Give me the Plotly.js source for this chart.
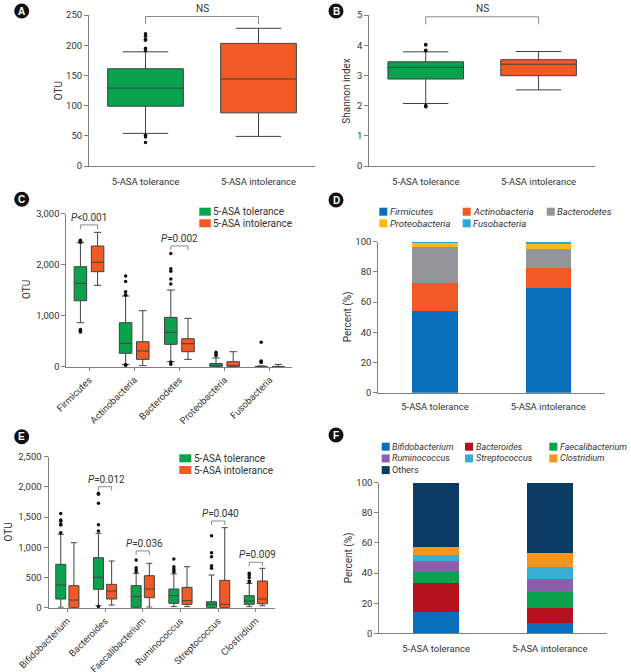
<!DOCTYPE html>
<html><head><meta charset="utf-8">
<script src="https://cdn.plot.ly/plotly-3.0.1.min.js"></script>
<style>html,body{margin:0;padding:0;background:#fff}#chart{width:631px;height:672px}</style>
</head><body><div id="chart"></div>
<script>
// ---------------- DATA ----------------
const groups = ['5-ASA tolerance', '5-ASA intolerance'];

// Panel A: OTU (box stats per group)
const otuQ1  = [99, 88];
const otuMed = [129, 144];
const otuQ3  = [161, 203];
const otuLo  = [54, 49];
const otuHi  = [189, 228];
const otuOutTol = [219, 215, 210, 208, 195, 191, 51, 48, 39];

// Panel B: Shannon index
const shQ1  = [2.88, 2.99];
const shMed = [3.27, 3.37];
const shQ3  = [3.45, 3.52];
const shLo  = [2.07, 2.52];
const shHi  = [3.78, 3.79];
const shOutTol = [4.02, 4.01, 3.83, 3.82, 2.00, 1.97, 1.96];

// Panel C: phylum OTU
const phyla = ['Firmicutes', 'Actinobacteria', 'Bacterodetes', 'Proteobacteria', 'Fusobacteria'];
const phyTolQ1  = [1294, 262, 438, 0, 0];
const phyTolMed = [1635, 458, 674, 10, 0];
const phyTolQ3  = [1961, 863, 968, 62, 6];
const phyTolLo  = [863, 46, 98, 0, 0];
const phyTolHi  = [2431, 1386, 1503, 170, 15];
const phyIntQ1  = [1863, 144, 294, 0, 0];
const phyIntMed = [2047, 308, 451, 8, 0];
const phyIntQ3  = [2366, 490, 549, 98, 4];
const phyIntLo  = [1596, 20, 144, 0, 0];
const phyIntHi  = [2635, 1098, 948, 294, 45];
const phyTolOutCat = [0,0,0,0,0,0,0,0, 1,1,1,1,1,1,1,1, 2,2,2,2,2,2,2, 3,3,3, 4,4,4,4,4];
const phyTolOutVal = [2480,2470,2460,2440,730,710,690,680, 1780,1670,1470,1410,1400,40,35,30, 2220,1920,1870,1720,1620,90,50, 282,243,215, 478,110,100,90,80];

// Panel D: phylum percent
const phylaPctTol = [54.1, 18.3, 24.3, 2.2, 1.1];
const phylaPctInt = [69.5, 13.1, 12.4, 3.7, 1.3];

// Panel E: genus OTU
const genera = ['Bifidobacterium', 'Bacteroides', 'Faecalibacterium', 'Ruminococcus', 'Streptococcus', 'Clostridium'];
const genTolQ1  = [144, 304, 0, 72, 0, 56];
const genTolMed = [376, 503, 183, 199, 56, 111];
const genTolQ3  = [718, 828, 365, 309, 99, 199];
const genTolLo  = [8, 33, 0, 17, 0, 17];
const genTolHi  = [1215, 1232, 569, 560, 541, 400];
const genIntQ1  = [0, 144, 166, 56, 0, 66];
const genIntMed = [127, 276, 309, 116, 56, 144];
const genIntQ3  = [365, 387, 530, 337, 453, 442];
const genIntLo  = [0, 44, 10, 17, 0, 33];
const genIntHi  = [1076, 773, 735, 679, 1325, 652];
const genTolOutCat = [0,0,0,0,0,0, 1,1,1,1,1,1, 2,2,2,2, 3,3,3,3,3, 4,4,4,4,4, 5,5,5,5,5];
const genTolOutVal = [1560,1450,1430,1380,1370,1240, 1894,1880,1728,1374,1270,20, 790,662,624,596, 806,680,640,610,590, 1192,911,845,695,652, 569,540,500,440,425];

// Panel F: genus percent
const generaF = ['Bifidobacterium', 'Bacteroides', 'Faecalibacterium', 'Ruminococcus', 'Streptococcus', 'Clostridium', 'Others'];
const genPctTol = [13.9, 19.7, 7.3, 7.1, 4.0, 5.1, 42.9];
const genPctInt = [7.0, 10.0, 10.6, 8.3, 8.3, 8.9, 46.9];

// Significance labels
const sigC = ['<i>P</i>&lt;0.001', '<i>P</i>=0.002'];
const sigCcat = [0, 2];
const sigCy = [2780, 2367];
const sigE = ['<i>P</i>=0.012', '<i>P</i>=0.036', '<i>P</i>=0.040', '<i>P</i>=0.009'];
const sigEcat = [1, 2, 4, 5];
const sigEy = [2003, 939, 1436, 752];

// ---------------- STYLE ----------------
const W = 631, H = 672;
const px = v => v / W, py = v => 1 - v / H;
const FONT = 'Roboto, sans-serif';
const FS = 9.5;
const GREEN = '#0aa24d', ORANGE = '#f15a24';
const LINE = '#404040', AXC = '#808080', TXT = '#333333';
const phylaColors = ['#0a6fba', '#f15a24', '#939598', '#fdb913', '#29a9d8'];
const generaColors = ['#0a6fba', '#b5121b', '#0aa24d', '#8a5fab', '#3aaed0', '#f7941d', '#0b3a63'];

const traces = [];
function boxes(xa, ya, pos, q1, med, q3, lo, hi, color, width) {
  traces.push({type: 'box', orientation: 'v', xaxis: xa, yaxis: ya, x: pos, q1: q1, median: med, q3: q3,
    lowerfence: lo, upperfence: hi, fillcolor: color, line: {color: LINE, width: 1}, whiskerwidth: 0.6,
    width: width, boxpoints: false, showlegend: false, hoverinfo: 'skip'});
}
function dots(xa, ya, xs, ys) {
  traces.push({type: 'scatter', mode: 'markers', xaxis: xa, yaxis: ya, x: xs, y: ys, cliponaxis: false,
    marker: {size: 3.5, color: '#111'}, showlegend: false, hoverinfo: 'skip'});
}

// A
boxes('x', 'y', [0], [otuQ1[0]], [otuMed[0]], [otuQ3[0]], [otuLo[0]], [otuHi[0]], GREEN, 0.67);
boxes('x', 'y', [1], [otuQ1[1]], [otuMed[1]], [otuQ3[1]], [otuLo[1]], [otuHi[1]], ORANGE, 0.67);
dots('x', 'y', otuOutTol.map(() => 0), otuOutTol);
// B
boxes('x2', 'y2', [0], [shQ1[0]], [shMed[0]], [shQ3[0]], [shLo[0]], [shHi[0]], GREEN, 0.67);
boxes('x2', 'y2', [1], [shQ1[1]], [shMed[1]], [shQ3[1]], [shLo[1]], [shHi[1]], ORANGE, 0.67);
dots('x2', 'y2', shOutTol.map(() => 0), shOutTol);
// C
const offC = 0.19, wC = 0.277;
boxes('x3', 'y3', phyla.map((_, i) => i - offC), phyTolQ1, phyTolMed, phyTolQ3, phyTolLo, phyTolHi, GREEN, wC);
boxes('x3', 'y3', phyla.map((_, i) => i + offC), phyIntQ1, phyIntMed, phyIntQ3, phyIntLo, phyIntHi, ORANGE, wC);
dots('x3', 'y3', phyTolOutCat.map(c => c - offC), phyTolOutVal);
// D
phyla.forEach((p, k) => traces.push({type: 'bar', xaxis: 'x4', yaxis: 'y4', x: groups, y: [phylaPctTol[k], phylaPctInt[k]],
  width: 0.4, marker: {color: phylaColors[k], line: {width: 0}}, showlegend: false, hoverinfo: 'skip'}));
// E
const offE = 0.175, wE = 0.265;
boxes('x5', 'y5', genera.map((_, i) => i - offE), genTolQ1, genTolMed, genTolQ3, genTolLo, genTolHi, GREEN, wE);
boxes('x5', 'y5', genera.map((_, i) => i + offE), genIntQ1, genIntMed, genIntQ3, genIntLo, genIntHi, ORANGE, wE);
dots('x5', 'y5', genTolOutCat.map(c => c - offE), genTolOutVal);
// F
generaF.forEach((g, k) => traces.push({type: 'bar', xaxis: 'x6', yaxis: 'y6', x: groups, y: [genPctTol[k], genPctInt[k]],
  width: 0.4, marker: {color: generaColors[k], line: {width: 0}}, showlegend: false, hoverinfo: 'skip'}));

// ---------------- AXES ----------------
function xAx(l, r, anchor, extra) {
  return Object.assign({domain: [px(l), px(r)], anchor: anchor, showline: true, linecolor: AXC, linewidth: 1,
    showgrid: false, zeroline: false, ticks: '', tickfont: {size: FS, color: TXT, family: FONT}, fixedrange: true}, extra);
}
function yAx(top, bottom, anchor, range, dtick, fmt) {
  return {domain: [py(bottom), py(top)], anchor: anchor, range: range, dtick: dtick, tick0: 0, showline: true,
    linecolor: AXC, linewidth: 1, ticks: 'outside', ticklen: 4, tickcolor: AXC, showgrid: false, zeroline: false,
    tickformat: fmt || '', tickfont: {size: FS, color: TXT, family: FONT}, fixedrange: true};
}
const grpTicks = {type: 'linear', range: [-0.5, 1.5], tickvals: [0, 1], ticktext: groups, ticklabelstandoff: 7};
const layout = {
  width: W, height: H, margin: {l: 0, r: 0, t: 0, b: 0}, paper_bgcolor: '#fff', plot_bgcolor: 'rgba(0,0,0,0)',
  font: {family: FONT, color: TXT, size: FS}, barmode: 'stack', hovermode: false, showlegend: false,
  xaxis: xAx(89, 315, 'y', grpTicks),
  yaxis: yAx(15, 166, 'x', [0, 250], 50),
  xaxis2: xAx(369.3, 595, 'y2', grpTicks),
  yaxis2: yAx(15, 166, 'x2', [0, 5], 1),
  xaxis3: xAx(66.4, 292.4, 'y3', {type: 'linear', range: [-0.5, 4.5], tickvals: phyla.map((_, i) => i), ticktext: phyla,
    tickangle: -45, ticks: 'outside', ticklen: 3, tickcolor: AXC}),
  yaxis3: yAx(213.7, 366.7, 'x3', [0, 3000], 1000, ','),
  xaxis4: xAx(378.3, 605, 'y4', {type: 'category', range: [-0.5, 1.5], ticklabelstandoff: 5}),
  yaxis4: yAx(241.7, 392.7, 'x4', [0, 100], 20),
  xaxis5: xAx(48.5, 274.7, 'y5', {type: 'linear', range: [-0.5, 5.5], tickvals: genera.map((_, i) => i), ticktext: genera,
    tickangle: -45, ticks: 'outside', ticklen: 3, tickcolor: AXC}),
  yaxis5: yAx(456.7, 607.7, 'x5', [0, 2500], 500, ','),
  xaxis6: xAx(379.3, 606.7, 'y6', {type: 'category', range: [-0.5, 1.5], ticklabelstandoff: 6}),
  yaxis6: yAx(482.7, 633.3, 'x6', [0, 100], 20),
  shapes: [], annotations: []
};

// ---------------- DECORATIONS ----------------
const S = layout.shapes, A = layout.annotations;
function bracket(xr, yr, x0, x1, yTop, drop) {
  S.push({type: 'path', xref: xr, yref: yr, line: {color: '#8a8a8a', width: 1},
    path: `M${x0},${yTop - drop} L${x0},${yTop} L${x1},${yTop} L${x1},${yTop - drop}`});
}
function note(xr, yr, x, y, text, shift) {
  A.push({xref: xr, yref: yr, x: x, y: y, text: text, showarrow: false, yanchor: 'bottom', yshift: shift || 0,
    font: {size: 10, color: TXT, family: FONT}});
}
bracket('x', 'y', 0, 1, 247.5, 12.5); note('x', 'y', 0.5, 247.5, 'NS', 1);
bracket('x2', 'y2', 0, 1, 4.94, 0.25); note('x2', 'y2', 0.5, 4.94, 'NS', 1);
sigC.forEach((t, k) => { const c = sigCcat[k]; bracket('x3', 'y3', c - offC, c + offC, sigCy[k], 80); note('x3', 'y3', c, sigCy[k], t, 0); });
sigE.forEach((t, k) => { const c = sigEcat[k]; bracket('x5', 'y5', c - offE, c + offE, sigEy[k], 65); note('x5', 'y5', c + 0.05, sigEy[k], t, 0); });

// panel letters
[['A', 21.7, 11], ['B', 336, 11], ['C', 21.7, 199.3], ['D', 336, 200], ['E', 21.7, 436.7], ['F', 336, 435]].forEach(([l, x, y]) => {
  S.push({type: 'circle', xref: 'paper', yref: 'paper', x0: px(x - 7.5), x1: px(x + 7.5), y0: py(y + 7.5), y1: py(y - 7.5),
    fillcolor: '#111', line: {width: 0}});
  A.push({xref: 'paper', yref: 'paper', x: px(x), y: py(y), text: '<b>' + l + '</b>', showarrow: false,
    font: {size: 10, color: '#fff', family: 'Liberation Sans, Arial, sans-serif'}, xanchor: 'center', yanchor: 'middle'});
});

// y-axis titles
[['OTU', 59.3, 91], ['Shannon index', 346.7, 91], ['OTU', 26, 290], ['Percent (%)', 348.3, 317], ['OTU', 7.5, 532], ['Percent (%)', 349.3, 558]]
  .forEach(([t, x, y]) => A.push({xref: 'paper', yref: 'paper', x: px(x), y: py(y), text: t, textangle: -90, showarrow: false,
    xanchor: 'center', yanchor: 'middle', font: {size: 10, color: TXT, family: FONT}}));

// manual legends
function legendItem(x, y, w, h, color, text, italic, fs) {
  S.push({type: 'rect', xref: 'paper', yref: 'paper', x0: px(x), x1: px(x + w), y0: py(y + h / 2), y1: py(y - h / 2),
    fillcolor: color, line: {width: 0}});
  A.push({xref: 'paper', yref: 'paper', x: px(x + w + 1.5), y: py(y), text: italic ? '<i>' + text + '</i>' : text, showarrow: false,
    xanchor: 'left', yanchor: 'middle', borderpad: 0, font: {size: fs, color: TXT, family: FONT}});
}
[GREEN, ORANGE].forEach((c, k) => legendItem(199.3, 211.7 + 11.6 * k, 11.5, 8, c, groups[k], false, 10));
[GREEN, ORANGE].forEach((c, k) => legendItem(179.3, 458.3 + 11.7 * k, 12, 8, c, groups[k], false, 10));
const colsD = [379.3, 462.7, 546.7];
phyla.forEach((p, k) => legendItem(colsD[k % 3], 211.7 + 11.6 * Math.floor(k / 3), 8, 8, phylaColors[k], p, true, 9.5));
const colsF = [381.7, 465, 549.3];
generaF.forEach((g, k) => legendItem(colsF[k % 3], 446.7 + 11.7 * Math.floor(k / 3), 8, 8, generaColors[k], g, g !== 'Others', 9));

Plotly.newPlot('chart', traces, layout, {staticPlot: true, displayModeBar: false});
</script>
</body></html>
